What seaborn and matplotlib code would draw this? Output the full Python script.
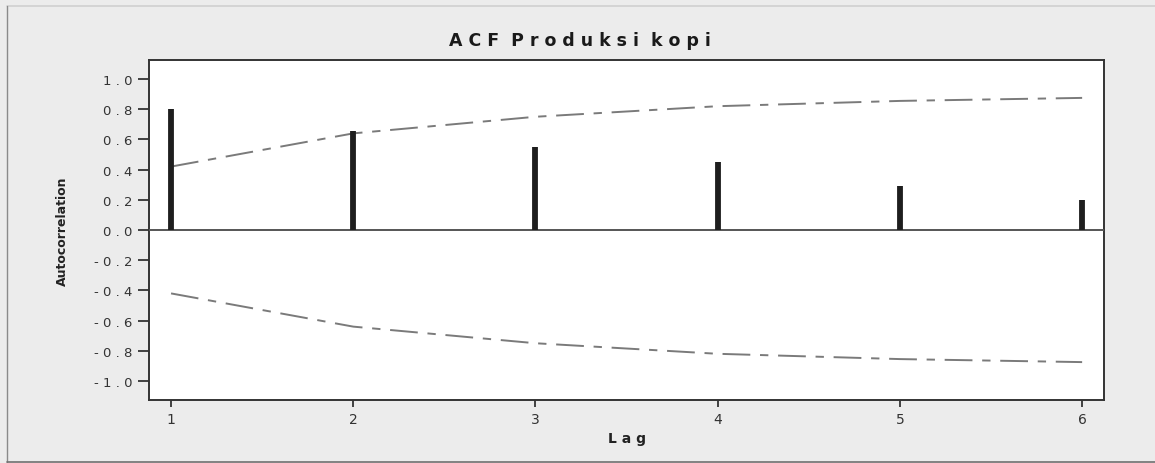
import matplotlib
matplotlib.use("Agg")
import matplotlib.pyplot as plt
import seaborn as sns
import pandas as pd
from matplotlib.lines import Line2D

lags = [1, 2, 3, 4, 5, 6]
acf_values = [0.80, 0.655, 0.55, 0.45, 0.29, 0.20]
upper_limit = [0.42, 0.64, 0.75, 0.82, 0.855, 0.875]
lower_limit = [-0.42, -0.64, -0.75, -0.82, -0.855, -0.875]
ytick_values = [1.0, 0.8, 0.6, 0.4, 0.2, 0.0, -0.2, -0.4, -0.6, -0.8, -1.0]

sns.set_theme(style="white")
plt.rcParams['font.family'] = ['DejaVu Sans']
plt.rcParams['lines.scale_dashes'] = False

fig = plt.figure(figsize=(11.55, 4.64), dpi=100, facecolor="#ececec")
ax = fig.add_axes([149/1155, 1-401/464, (1104-149)/1155, (401-61)/464])
ax.set_facecolor("white")

df = pd.DataFrame({"lag": lags, "upper": upper_limit, "lower": lower_limit})
for col in ["upper", "lower"]:
    sns.lineplot(data=df, x="lag", y=col, ax=ax, color="#7a7a7a", lw=1.4,
                 linestyle=(0, (20, 7, 6, 7)), zorder=2)

ax.axhline(0, color="#555555", lw=1.4, zorder=3)
ax.vlines(lags, 0, acf_values, color="#1e1e1e", lw=4.2, zorder=4)

def fmt(v):
    s = f"{abs(v):.1f}"
    core = " ".join(s)
    return ("-" + " " + core) if v < 0 else core

ax.set_xlim(0.879, 6.12)
ax.set_ylim(-1.126, 1.126)
ax.set_xticks(lags)
ax.set_xticklabels([str(l) for l in lags], fontsize=10, color="#333333")
ax.set_yticks(ytick_values)
ax.set_yticklabels([fmt(v) for v in ytick_values], fontsize=9.5, color="#333333")
ax.tick_params(axis="y", direction="out", length=8, width=1.3, color="#333333", pad=4, left=True)
ax.tick_params(axis="x", direction="out", length=5, width=1.3, color="#333333", pad=4, bottom=True)
for s in ax.spines.values():
    s.set_color("#333333")
    s.set_linewidth(1.4)

ax.set_xlabel("L a g", fontsize=10, fontweight="bold", color="#222222", labelpad=3)
ax.set_ylabel("Autocorrelation", fontsize=9, fontweight="bold", color="#222222", labelpad=18)
fig.text(580/1155, 1-41/464, "A C F  P r o d u k s i  k o p i", ha="center", va="center",
         fontsize=12.5, fontweight="bold", color="#1a1a1a")

# outer frame: light top/left, darker bottom
fig.lines.append(Line2D([7/1155, 1], [1-7/464, 1-7/464], transform=fig.transFigure, color="#d0d0d0", lw=1.2))
fig.lines.append(Line2D([7/1155, 7/1155], [1/464, 1-7/464], transform=fig.transFigure, color="#8a8a8a", lw=1.0))
fig.lines.append(Line2D([7/1155, 1], [1/464, 1/464], transform=fig.transFigure, color="#707070", lw=1.2))

fig.savefig("out.png", dpi=100, facecolor=fig.get_facecolor())
